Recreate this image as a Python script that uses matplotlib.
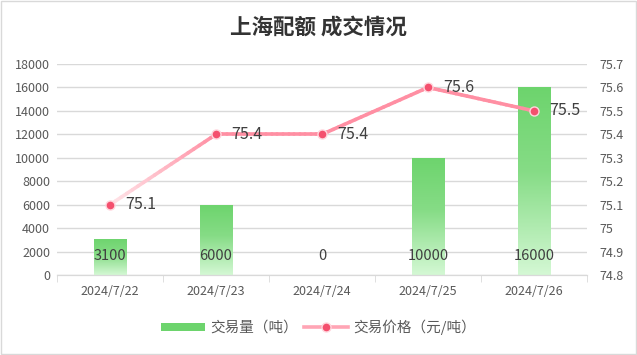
import numpy as np
import matplotlib.pyplot as plt
from matplotlib.collections import LineCollection
from matplotlib.colors import LinearSegmentedColormap, to_rgba
from matplotlib.lines import Line2D
from matplotlib.patches import Rectangle

plt.rcParams['font.family'] = ['Noto Sans CJK SC', 'DejaVu Sans']

# data
dates = ['2024/7/22', '2024/7/23', '2024/7/24', '2024/7/25', '2024/7/26']
volume = [3100, 6000, 0, 10000, 16000]
price = [75.1, 75.4, 75.4, 75.6, 75.5]
vol_ticks = [0, 2000, 4000, 6000, 8000, 10000, 12000, 14000, 16000, 18000]
price_ticks = [74.8, 74.9, 75.0, 75.1, 75.2, 75.3, 75.4, 75.5, 75.6, 75.7]
price_tick_labels = ['74.8', '74.9', '75', '75.1', '75.2', '75.3', '75.4', '75.5', '75.6', '75.7']

text_c = '#595959'
grid_c = '#d9d9d9'

fig = plt.figure(figsize=(6.37, 3.55), dpi=100)
fig.patches.append(Rectangle((0.001, 0.002), 0.997, 0.995, transform=fig.transFigure,
                             fill=False, edgecolor='#d9d9d9', linewidth=1))
ax = fig.add_axes([0.0895, 0.2254, 0.832, 0.5943])
ax2 = ax.twinx()

x = np.arange(len(dates))

# gradient bars
green = LinearSegmentedColormap.from_list('g', [(0, '#d4f8d4'), (0.55, '#86dc86'), (1, '#6dd46d')])
grad = np.linspace(0, 1, 256).reshape(-1, 1)
bars = ax.bar(x, volume, width=0.31, color='none', zorder=2)
for b in bars:
    if b.get_height() <= 0:
        continue
    x0, w, h = b.get_x(), b.get_width(), b.get_height()
    im = ax.imshow(grad, cmap=green, aspect='auto', origin='lower',
                   extent=(x0, x0 + w, 0, h), zorder=2, interpolation='bilinear')
    im.set_clip_path(b)
ax.set_xlim(-0.5, len(dates) - 0.5)
ax.set_ylim(0, 18000)
ax2.set_ylim(74.8, 75.7)

for xi, v in zip(x, volume):
    ax.annotate(str(v), (xi, 0), xytext=(0, 14), textcoords='offset points',
                ha='center', va='center', fontsize=10.5, color='#404040', zorder=5)

# gradient line (light at the start)
t = np.linspace(0, 1, 20)
segs, cols = [], []
base = np.array(to_rgba('#ff8fa3'))
light = np.array(to_rgba('#ffe6ea'))
for i in range(len(x) - 1):
    xs = x[i] + (x[i + 1] - x[i]) * t
    ys = price[i] + (price[i + 1] - price[i]) * t
    for j in range(len(t) - 1):
        segs.append([(xs[j], ys[j]), (xs[j + 1], ys[j + 1])])
        if i == 0:
            f = (t[j] + t[j + 1]) / 2
            cols.append(light * (1 - f) + base * f)
        else:
            cols.append(base)
ax2.add_collection(LineCollection(segs, colors=cols, linewidths=2.6, capstyle='round', zorder=3))
ax2.plot(x, price, linestyle='none', marker='o', markersize=6.5, markerfacecolor='#f4506e',
         markeredgecolor='#ffd6dd', markeredgewidth=1.0, zorder=4)
for xi, p in zip(x, price):
    ax2.annotate(f'{p:g}', (xi, p), xytext=(11, 0), textcoords='offset points',
                 ha='left', va='center', fontsize=11.5, color='#404040', zorder=5)

# axes styling
ax.set_yticks(vol_ticks)
ax.set_yticklabels([str(v) for v in vol_ticks])
ax2.set_yticks(price_ticks)
ax2.set_yticklabels(price_tick_labels)
ax.grid(axis='y', color=grid_c, linewidth=1)
ax.set_axisbelow(True)
ax.set_xticks(x)
ax.set_xticklabels(dates)
ax.set_xticks(np.arange(-0.5, len(dates)), minor=True)
ax.tick_params(axis='x', which='major', length=0, pad=7, labelsize=9, labelcolor=text_c)
ax.tick_params(axis='x', which='minor', length=5, color=grid_c, direction='out')
ax.tick_params(axis='y', length=0, labelsize=9, labelcolor=text_c, pad=5)
ax2.tick_params(axis='y', length=0, labelsize=9, labelcolor=text_c, pad=9)
for a in (ax, ax2):
    for s in ('top', 'left', 'right'):
        a.spines[s].set_visible(False)
    a.spines['bottom'].set_color(grid_c)

fig.text(0.5, 0.925, '上海配额 成交情况', ha='center', va='center', fontsize=15.5,
         fontweight='bold', color='#333333')

handles = [Rectangle((0, 0), 1, 1, facecolor='#6dd46d', edgecolor='none'),
           Line2D([], [], color='#ffa5b5', linewidth=2.6, marker='o', markersize=6.5,
                  markerfacecolor='#f4506e', markeredgecolor='#ffd6dd')]
fig.legend(handles, ['交易量（吨）', '交易价格（元/吨）'], loc='center', bbox_to_anchor=(0.5, 0.078),
           ncol=2, frameon=False, fontsize=10.5, labelcolor=text_c, handlelength=3.0,
           handleheight=0.55, columnspacing=0.4, handletextpad=0.4)

fig.savefig('out.png', dpi=100)
